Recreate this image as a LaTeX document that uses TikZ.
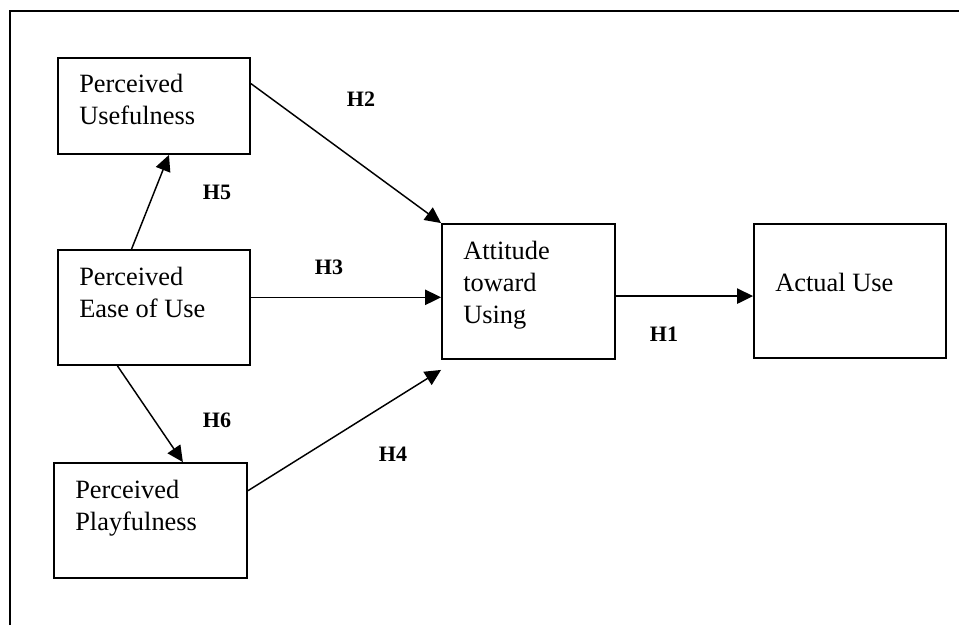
\documentclass[tikz,border=0pt]{standalone}
\usepackage{fontspec}
\setmainfont{Liberation Serif}
\usetikzlibrary{arrows.meta}

\tikzset{
  box/.style={draw, line width=1.4pt, inner sep=0pt},
  boxtext/.style={anchor=base west, inner sep=0pt, align=left, font=\fontsize{19.8}{24}\selectfont},
  hyp/.style={inner sep=0pt, font=\fontsize{16.5}{19}\selectfont\bfseries},
  link/.style={line width=1.1pt, -{Triangle[length=12pt,width=11.5pt]}}
}

\begin{document}
\begin{tikzpicture}[x=0.75pt,y=-0.75pt]
\useasboundingbox (0,0) rectangle (959,625);

%Frame
\draw [line width=1.5pt] (10,625) -- (10,11) -- (959,11) ;

%Shape: Rectangle
\node [box, minimum width=144pt, minimum height=72pt] (pu) at (154,106) {};
%Shape: Rectangle
\node [box, minimum width=144pt, minimum height=86.25pt] (peou) at (154,307.5) {};
%Shape: Rectangle
\node [box, minimum width=144.75pt, minimum height=86.25pt] (pp) at (150.5,520.5) {};
%Shape: Rectangle
\node [box, minimum width=129.75pt, minimum height=101.25pt] (atu) at (528.5,291.5) {};
%Shape: Rectangle
\node [box, minimum width=144pt, minimum height=100.5pt] (au) at (850,291) {};

% Text Node (placed at the baseline of the last line)
\node [boxtext] (pu-t) at (79,124) {Perceived\\Usefulness};
% Text Node
\node [boxtext] (peou-t) at (79,317) {Perceived\\Ease of Use};
% Text Node
\node [boxtext] (pp-t) at (75,530) {Perceived\\Playfulness};
% Text Node
\node [boxtext] (atu-t) at (463,323) {Attitude\\toward\\Using};
% Text Node
\node [boxtext] (au-t) at (775,291) {Actual Use};

%Straight Lines
\draw [link] (peou.111.8) -- (pu.-73.7) ;
\draw [link] (peou.238) -- (pp.61.3) ;
\draw [link] (pu.13.5) -- (atu.north west) ;
\draw [link] (peou.6) -- (peou.6 -| atu.west) ;
\draw [link] (pp.17.5) -- ([yshift=-7.5pt]atu.south west) ;
\draw [link] (atu.-3.6) -- (atu.-3.6 -| au.west) ;

% Text Node
\node [hyp] (h1) at (664,334) {H1};
\node [hyp] (h2) at (361,99) {H2};
\node [hyp] (h3) at (329,267) {H3};
\node [hyp] (h4) at (393,454) {H4};
\node [hyp] (h5) at (217,192) {H5};
\node [hyp] (h6) at (217,420) {H6};

\end{tikzpicture}
\end{document}
